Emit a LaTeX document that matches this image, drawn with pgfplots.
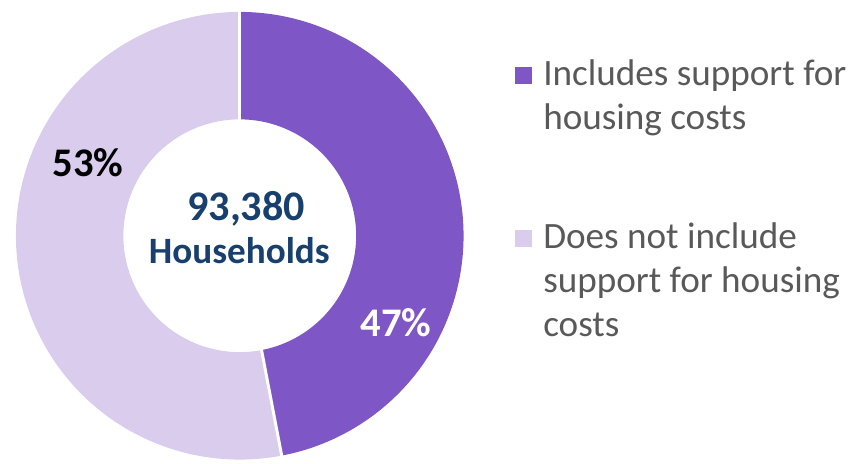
\documentclass[border=0pt]{standalone}
\usepackage{pgfplots}
\usepackage{pgfplotstable}
\pgfplotsset{compat=1.18}
\usepackage{fontspec}
\setmainfont{Carlito}

\definecolor{darkpurple}{RGB}{127,86,197}
\definecolor{lightpurple}{RGB}{217,204,237}
\definecolor{navy}{RGB}{24,64,110}
\definecolor{legendgrey}{RGB}{89,89,89}

% share of households, per cent
\pgfplotstableread{
share
47
53
}\shares

\begin{document}
\pgfplotstablegetelem{0}{share}\of\shares
\pgfmathsetmacro{\splitangle}{90-3.6*\pgfplotsretval}
\pgfmathsetmacro{\endangle}{\splitangle+360}
\begin{tikzpicture}
\begin{axis}[
    scale only axis,
    width=858bp, height=463bp,
    xmin=-236.5, xmax=621.5,
    ymin=-226, ymax=237,
    axis line style={draw=none},
    xtick=\empty, ytick=\empty,
    clip=false,
    legend style={
        at={(axis cs:276.5,178)}, anchor=north west,
        draw=none, fill=none, inner sep=0pt,
        font=\fontsize{37.5}{44.5}\selectfont,
        text=legendgrey,
        row sep=92bp,
        column sep=12bp,
        nodes={inner sep=0pt},
        cells={anchor=north west, align=left},
    },
]
% ring: one thick arc per slice, centred on radius 171
\addplot[darkpurple, line width=108bp, data cs=polar, variable=\t,
    domain=\splitangle:90, samples=160, forget plot] ({\t},{171});
\addplot[lightpurple, line width=108bp, data cs=polar, variable=\t,
    domain=90:\endangle, samples=180, forget plot] ({\t},{171});
% white separators between slices
\addplot[white, line width=3bp, data cs=polar, forget plot]
    coordinates {(90,110) (90,232)};
\addplot[white, line width=3bp, data cs=polar, forget plot]
    coordinates {(-79.2,110) (-79.2,232)};

\addlegendimage{legend image code/.code={\path (0bp,0bp); \fill[darkpurple] (0bp,-8bp) rectangle (16bp,-24bp);}}
\addlegendentry{Includes support for\\housing costs}
\addlegendimage{legend image code/.code={\path (0bp,0bp); \fill[lightpurple] (0bp,-8bp) rectangle (16bp,-24bp);}}
\addlegendentry{Does not include\\support for housing\\costs}

\node[anchor=base, font=\fontsize{41}{41}\selectfont\bfseries] at (axis cs:-152.5,60) {53\%};
\node[anchor=base, font=\fontsize{41}{41}\selectfont\bfseries, text=white] at (axis cs:157,-101) {47\%};
\node[anchor=base, font=\fontsize{42.5}{42}\selectfont\bfseries, text=navy] at (axis cs:6.5,15) {93,380};
\node[anchor=base, font=\fontsize{37.5}{36}\selectfont\bfseries, text=navy] at (axis cs:-0.5,-28) {Households};
\end{axis}
\end{tikzpicture}
\end{document}
